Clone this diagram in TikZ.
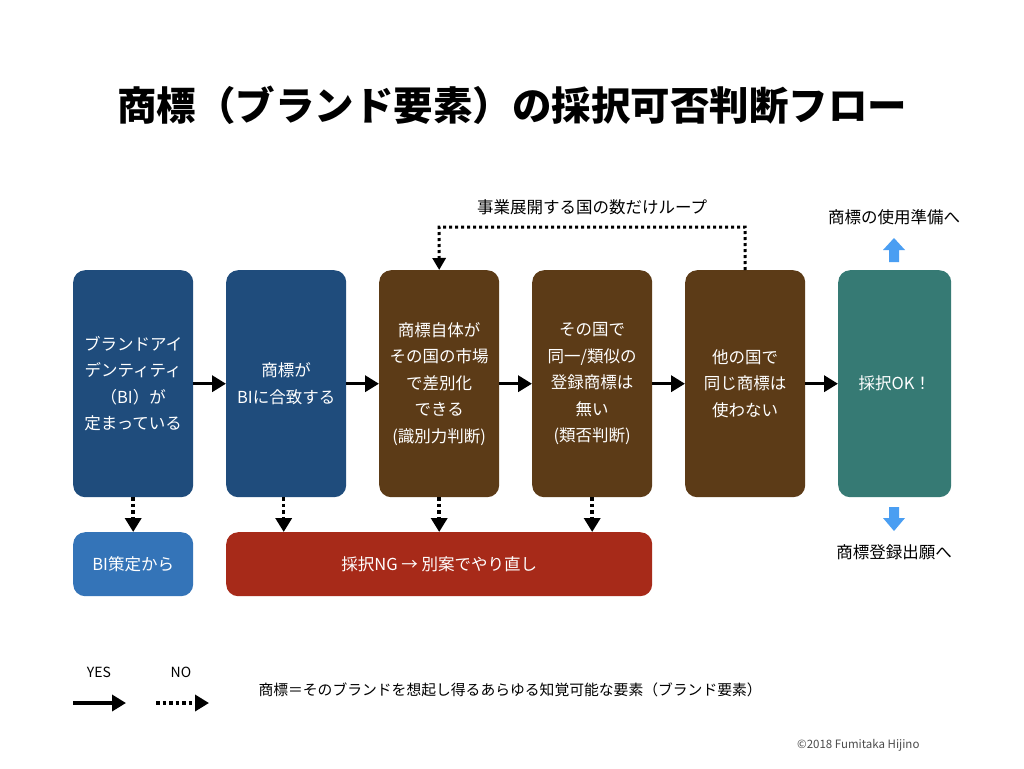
\documentclass[tikz,border=0pt]{standalone}
\usepackage{fontspec}
\setmainfont{Noto Sans CJK JP}
\usetikzlibrary{arrows.meta}
\definecolor{cBlue}{HTML}{1F4C7C}
\definecolor{cBrown}{HTML}{5C3B17}
\definecolor{cTeal}{HTML}{367A74}
\definecolor{cLight}{HTML}{3474B8}
\definecolor{cRed}{HTML}{A72A19}
\definecolor{cArrow}{HTML}{4A9EF2}
\tikzset{
  box/.style={draw=none, rounded corners=12pt, inner sep=0pt, text=white, align=center,
    font=\fontsize{16.5}{26.5}\selectfont, anchor=north west},
  yes/.style={line width=3.5pt, -{Triangle[length=14pt,width=16pt]}},
  no/.style={line width=3.5pt, dash pattern=on 3.5pt off 3pt, -{Triangle[length=14pt,width=16pt]}},
  lbl/.style={font=\fontsize{16.5}{18}\selectfont, text=black},
}
\begin{document}
\begin{tikzpicture}[x=1pt,y=-1pt]
\useasboundingbox (0,0) rectangle (1024,768);
\fill[white] (0,0) rectangle (1024,768);
\node[font=\bfseries\fontsize{39.5}{42}\selectfont] (title) at (512,105) {商標（ブランド要素）の採択可否判断フロー};

\node[box, fill=cBlue, minimum width=120pt, minimum height=227pt] (b1) at (73,270) {};
\node[box, fill=cBlue, minimum width=120pt, minimum height=227pt] (b2) at (226,270) {};
\node[box, fill=cBrown, minimum width=120pt, minimum height=227pt] (b3) at (379,270) {};
\node[box, fill=cBrown, minimum width=120pt, minimum height=227pt] (b4) at (532,270) {};
\node[box, fill=cBrown, minimum width=120pt, minimum height=227pt] (b5) at (685,270) {};
\node[box, fill=cTeal, minimum width=113pt, minimum height=227pt] (b6) at (838,270) {};
\node[box, fill=cLight, minimum width=120pt, minimum height=64pt] (bi) at (73,532) {};
\node[box, fill=cRed, minimum width=426pt, minimum height=64pt] (ng) at (226,532) {};

\node[box, anchor=center] (t1) at (b1.center) {ブランドアイ\\デンティティ\\（BI）が\\定まっている};
\node[box, anchor=center] (t2) at (b2.center) {商標が\\BIに合致する};
\node[box, anchor=center] (t3) at (b3.center) {商標自体が\\その国の市場\\で差別化\\できる\\(識別力判断)};
\node[box, anchor=center] (t4) at (b4.center) {その国で\\同一/類似の\\登録商標は\\無い\\(類否判断)};
\node[box, anchor=center] (t5) at (b5.center) {他の国で\\同じ商標は\\使わない};
\node[box, anchor=center] (t6) at (b6.center) {採択OK！};
\node[box, anchor=center] (tbi) at (bi.center) {BI策定から};
\node[box, anchor=center] (tng) at (ng.center) {採択NG → 別案でやり直し};

\draw[yes] (b1.east) -- (b2.west);
\draw[yes] (b2.east) -- (b3.west);
\draw[yes] (b3.east) -- (b4.west);
\draw[yes] (b4.east) -- (b5.west);
\draw[yes] (b5.east) -- (b6.west);

\draw[no] (b1.south) -- (bi.north);
\draw[no] ([xshift=-2.5pt]b2.south) -- ([xshift=-2.5pt]b2.south |- ng.north);
\draw[no] (b3.south) -- (b3.south |- ng.north);
\draw[no] (b4.south) -- (b4.south |- ng.north);

\coordinate (lt) at (745,227);
\coordinate (lb) at (439,227);
\draw[no, -{Triangle[length=12pt,width=13pt]}, line width=3pt, dash pattern=on 3pt off 3pt] (b5.north) -- (lt) -- (lb) -- (b3.north);
\node[lbl] (looplbl) at (592,207) {事業展開する国の数だけループ};

\fill[cArrow] (889,262) -- (889,250) -- (883,250) -- (894,238) -- (905,250) -- (899,250) -- (899,262) -- cycle;
\fill[cArrow] (889,507) -- (889,518) -- (883,518) -- (894,531) -- (905,518) -- (899,518) -- (899,507) -- cycle;
\node[lbl] (up) at (894,217) {商標の使用準備へ};
\node[lbl] (down) at (894,552) {商標登録出願へ};

\node[font=\fontsize{14}{16}\selectfont] (yes) at (99,672) {YES};
\node[font=\fontsize{14}{16}\selectfont] (nolbl) at (181,672) {NO};
\coordinate (ya) at (73,703);
\coordinate (yb) at (126,703);
\coordinate (na) at (156,703);
\coordinate (nb) at (209,703);
\draw[yes] (ya) -- (yb);
\draw[no] (na) -- (nb);
\node[font=\fontsize{14.8}{16}\selectfont, anchor=west] (def) at (255,690) {商標＝そのブランドを想起し得るあらゆる知覚可能な要素（ブランド要素）};
\node[font=\fontsize{11.5}{13}\selectfont, text=black!70, anchor=east] (copy) at (923,745) {©2018 Fumitaka Hijino};
\end{tikzpicture}
\end{document}
